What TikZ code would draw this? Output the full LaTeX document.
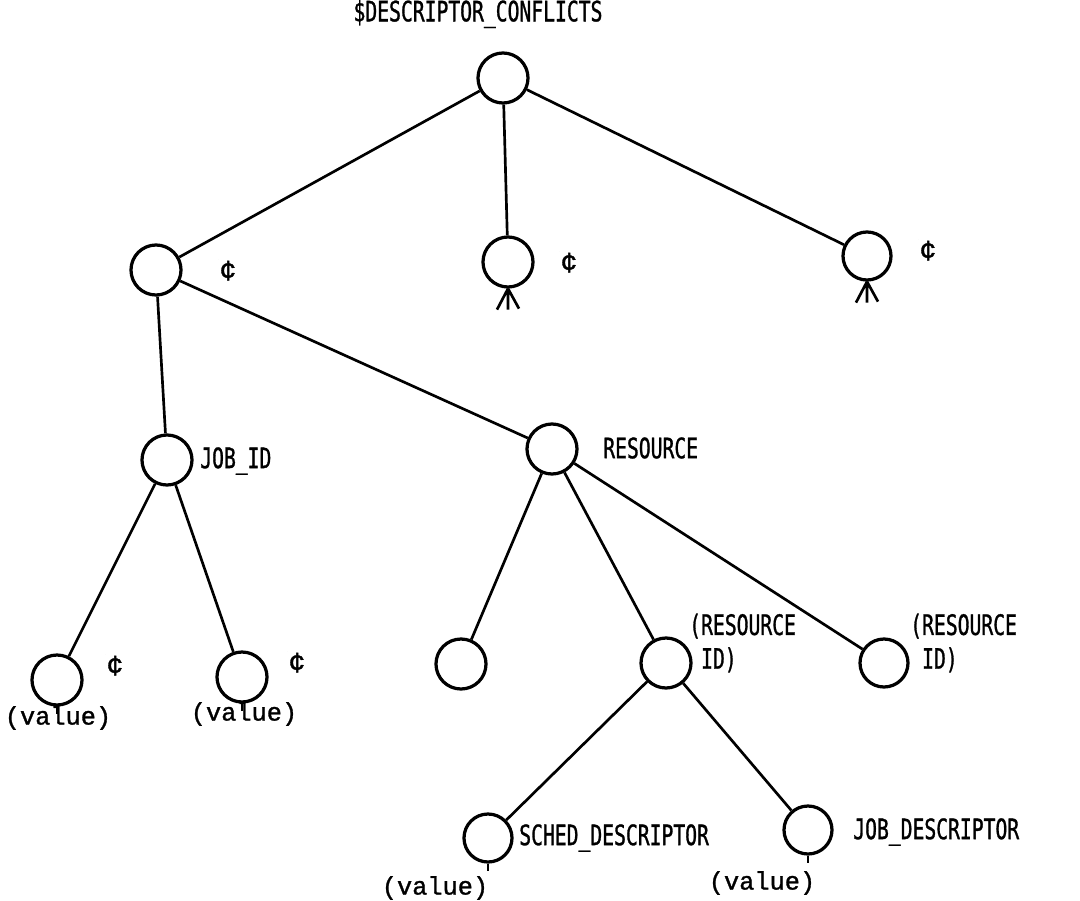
\documentclass[tikz,border=0pt]{standalone}
\usepackage{fontspec}
\usetikzlibrary{positioning}
\newfontfamily\lblfont[FakeStretch=0.7,FakeBold=1]{DejaVu Sans Mono}
\newfontfamily\valfont[FakeBold=1.2]{Liberation Mono}

\begin{document}
\begin{tikzpicture}[
    x=0.025cm, y=-0.025cm,
    vertex/.style={draw, circle, line width=2.3pt, inner sep=0pt, minimum size=1.25cm},
    edge/.style={line width=1.9pt},
    tick/.style={line width=1.9pt},
    lbl/.style={font=\lblfont\fontsize{20}{24}\selectfont, inner sep=0pt, anchor=west, align=left},
    val/.style={font=\valfont\fontsize{18}{20}\selectfont, inner sep=0pt},
    cent/.style={font=\valfont\fontsize{20}{22}\selectfont, inner sep=0pt},
  ]

  \useasboundingbox (0,0) rectangle (1080,901);

  % ---------- tree nodes ----------
  \node[vertex] (root)  at (503,78)  {};
  \node[vertex] (left)  at (156,270) {};
  \node[vertex] (mid)   at (508,262) {};
  \node[vertex, minimum size=1.2cm] (right) at (867,256) {};
  \node[vertex] (jobid) at (167,460) {};
  \node[vertex] (res)   at (552,449) {};
  \node[vertex] (val1)  at (57,680)  {};
  \node[vertex] (val2)  at (242,677) {};
  \node[vertex] (res1)  at (461,664) {};
  \node[vertex] (res2)  at (666,663) {};
  \node[vertex, minimum size=1.2cm] (res3) at (884,663) {};
  \node[vertex, minimum size=1.2cm] (sched) at (488,838) {};
  \node[vertex, minimum size=1.2cm] (jobd)  at (808,830) {};

  % ---------- connectors ----------
  \draw[edge] (root) -- (left);
  \draw[edge] (root) -- (mid);
  \draw[edge] (root) -- (right);
  \draw[edge] (left) -- (jobid);
  \draw[edge] (left) -- (res);
  \draw[edge] (jobid) -- (val1);
  \draw[edge] (jobid) -- (val2);
  \draw[edge] (res) -- (res1);
  \draw[edge] (res) -- (res2);
  \draw[edge] (res) -- (res3);
  \draw[edge] (res2) -- (sched);
  \draw[edge] (res2) -- (jobd);

  % ---------- stubs under the leaves ----------
  \foreach \n in {val1,val2,sched,jobd}
    \draw[tick] (\n.south) -- ++(0,7);
  \foreach \n in {mid,right}
    \draw[tick] (\n.south) -- ++(-11,21) (\n.south) -- ++(0,21) (\n.south) -- ++(11,20);

  % ---------- labels ----------
  \node[lbl, anchor=center] (title) at (478,14) {\$DESCRIPTOR\_CONFLICTS};
  \node[lbl] (lbljob)   at (200,461) {JOB\_ID};
  \node[lbl] (lblres)   at (603,448) {RESOURCE};
  \node[lbl] (lblrid1)  at (689,643) {(RESOURCE\\\ ID)};
  \node[lbl] (lblrid2)  at (910,643) {(RESOURCE\\\ ID)};
  \node[lbl] (lblsched) at (519,838) {SCHED\_DESCRIPTOR};
  \node[lbl] (lbljobd)  at (853,832) {JOB\_DESCRIPTOR};

  \node[val] (txtval1) at (58,718)  {(value)};
  \node[val] (txtval2) at (244,714) {(value)};
  \node[val] (txtval3) at (435,888) {(value)};
  \node[val] (txtval4) at (762,883) {(value)};

  \node[cent] (centleft)  at (228,270) {¢};
  \node[cent] (centmid)   at (569,262) {¢};
  \node[cent] (centright) at (928,250) {¢};
  \node[cent] (centval1)  at (115,665) {¢};
  \node[cent] (centval2)  at (297,662) {¢};

\end{tikzpicture}
\end{document}
